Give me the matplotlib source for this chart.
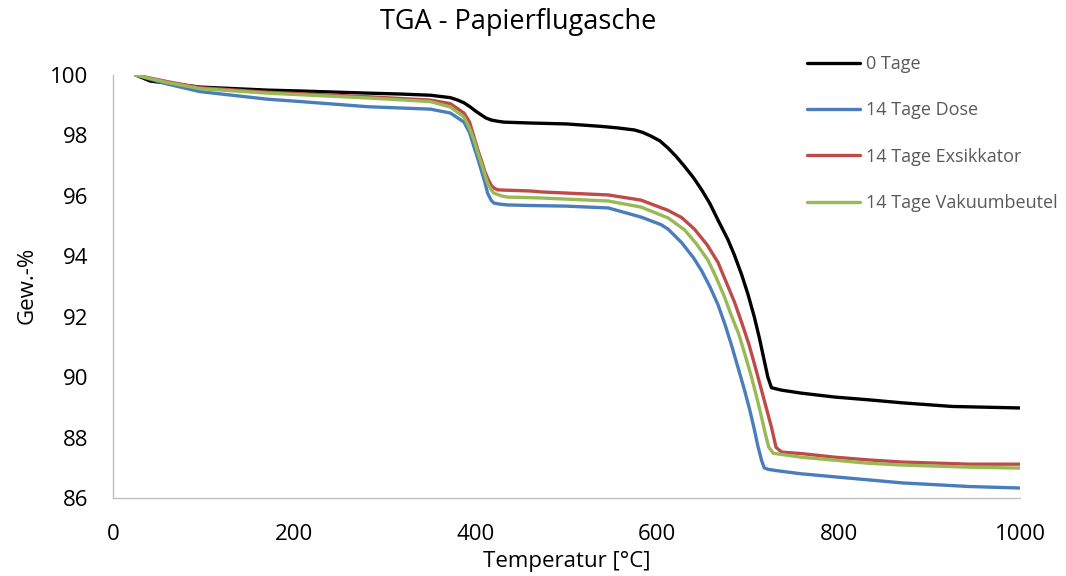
import matplotlib
matplotlib.use("Agg")
import matplotlib.pyplot as plt

plt.rcParams['font.family'] = ['Open Sans', 'DejaVu Sans']

# Data (temperature in °C, weight in %)
t_0 = [25, 41, 96, 170, 207, 281, 317, 350, 372, 380, 387, 394, 400, 406, 411, 417, 424, 431,
       461, 500, 538, 556, 575, 584, 593, 603, 612, 621, 630, 640, 649, 658, 667, 678, 685,
       693, 700, 707, 713, 718, 722, 726, 737, 759, 796, 833, 870, 925, 1000]
v_0 = [100, 99.8, 99.6, 99.5, 99.47, 99.4, 99.37, 99.33, 99.25, 99.17, 99.08, 98.94, 98.8,
       98.68, 98.58, 98.51, 98.47, 98.44, 98.41, 98.38, 98.3, 98.25, 98.18, 98.1, 97.98,
       97.82, 97.58, 97.3, 96.98, 96.6, 96.2, 95.75, 95.2, 94.55, 94.05, 93.4, 92.75, 92.0,
       91.25, 90.55, 90.0, 89.65, 89.57, 89.47, 89.34, 89.25, 89.15, 89.03, 88.98]

t_dose = [25, 60, 96, 170, 207, 281, 350, 372, 387, 393, 398, 402, 406, 410, 413, 417, 420,
          428, 435, 461, 500, 546, 582, 604, 612, 627, 640, 649, 658, 667, 675, 682, 689, 696,
          702, 707, 711, 715, 718, 722, 733, 759, 796, 833, 870, 944, 1000]
v_dose = [100, 99.7, 99.45, 99.2, 99.12, 98.95, 98.87, 98.74, 98.44, 98.1, 97.62, 97.25,
          96.85, 96.45, 96.09, 95.85, 95.76, 95.72, 95.7, 95.68, 95.66, 95.6, 95.3, 95.05,
          94.9, 94.45, 93.95, 93.52, 93.0, 92.4, 91.72, 91.05, 90.33, 89.6, 88.92, 88.28,
          87.72, 87.25, 87.0, 86.95, 86.9, 86.8, 86.7, 86.6, 86.5, 86.38, 86.33]

t_exs = [25, 60, 96, 170, 281, 350, 372, 387, 393, 398, 403, 406, 410, 414, 417, 420, 424,
         431, 461, 472, 546, 582, 612, 627, 641, 655, 667, 676, 685, 693, 701, 708, 715, 721,
         726, 731, 737, 759, 796, 833, 870, 944, 1000]
v_exs = [100, 99.78, 99.58, 99.43, 99.28, 99.17, 99.05, 98.74, 98.45, 97.95, 97.45, 97.19,
         96.8, 96.52, 96.35, 96.26, 96.2, 96.19, 96.16, 96.13, 96.03, 95.86, 95.52, 95.28,
         94.9, 94.38, 93.8, 93.15, 92.5, 91.82, 91.1, 90.35, 89.57, 88.9, 88.34, 87.68,
         87.52, 87.47, 87.35, 87.26, 87.19, 87.12, 87.12]

t_vak = [25, 60, 96, 170, 281, 350, 372, 387, 393, 398, 402, 406, 410, 413, 417, 420, 428,
         435, 472, 546, 582, 612, 630, 643, 656, 665, 674, 682, 690, 697, 704, 710, 715, 719,
         723, 728, 759, 796, 833, 870, 944, 1000]
v_vak = [100, 99.75, 99.55, 99.4, 99.24, 99.12, 98.94, 98.61, 98.25, 97.85, 97.45, 97.09,
         96.7, 96.42, 96.2, 96.09, 96.0, 95.96, 95.93, 95.83, 95.63, 95.27, 94.88, 94.42,
         93.87, 93.3, 92.67, 92.02, 91.42, 90.72, 90.0, 89.3, 88.68, 88.15, 87.68, 87.48,
         87.35, 87.25, 87.15, 87.09, 87.02, 86.99]

labels = ["0 Tage", "14 Tage Dose", "14 Tage Exsikkator", "14 Tage Vakuumbeutel"]
colors = ["#000000", "#4A7EBB", "#BE4B48", "#98B954"]
x_ticks = [0, 200, 400, 600, 800, 1000]
y_ticks = [86, 88, 90, 92, 94, 96, 98, 100]

fig = plt.figure(figsize=(10.66, 5.76), dpi=100)
ax = fig.add_axes([113/1066, 1-498/576, (1020-113)/1066, (498-75)/576])

series = [(t_0, v_0), (t_dose, v_dose), (t_exs, v_exs), (t_vak, v_vak)]
handles = []
for (t, v), lab, c in zip(series, labels, colors):
    h, = ax.plot(t, v, color=c, lw=2.4, label=lab, solid_joinstyle='round',
                 solid_capstyle='round')
    handles.append(h)

ax.set_xlim(0, 1000)
ax.set_ylim(86, 100)
ax.set_xticks(x_ticks)
ax.set_yticks(y_ticks)
ax.tick_params(length=0, labelsize=16, colors='#000000')
ax.tick_params(axis='x', pad=19)
ax.tick_params(axis='y', pad=18)
for s in ['top', 'right']:
    ax.spines[s].set_visible(False)
ax.spines['left'].set_color('#BFBFBF')
ax.spines['bottom'].set_color('#BFBFBF')
ax.spines['left'].set_linewidth(1.0)
ax.spines['bottom'].set_linewidth(1.0)

fig.text(518/1066, 1-22/576, "TGA - Papierflugasche", ha='center', va='center',
         fontsize=19.5, color='#000000')
fig.text(27/1066, 1-285/576, "Gew.-%", ha='center', va='center', rotation=90,
         fontsize=16, color='#000000')
fig.text(567/1066, 1-561/576, "Temperatur [°C]", ha='center', va='center',
         fontsize=16, color='#000000')

leg = fig.legend(handles=handles, labels=labels, loc='upper left',
                 bbox_to_anchor=(807/1066, 1-55/576), frameon=False, fontsize=13,
                 handlelength=2.93, handletextpad=0.33, labelspacing=1.57,
                 borderaxespad=0, borderpad=0)
for txt in leg.get_texts():
    txt.set_color('#595959')

fig.savefig("out.png", dpi=100)
